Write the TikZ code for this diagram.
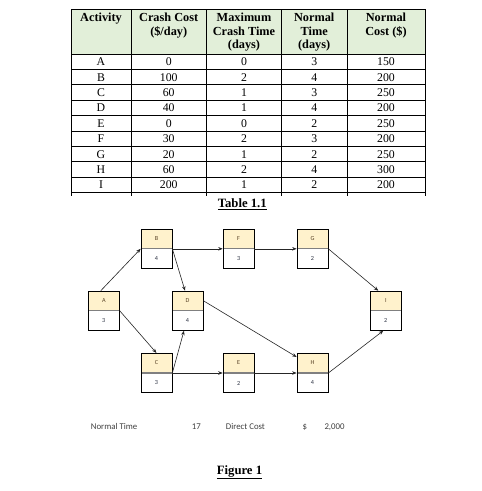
\documentclass[tikz,border=0pt]{standalone}
\usepackage{fontspec}
\setmainfont{Liberation Serif}
\newfontfamily\calibri{Carlito}
\usetikzlibrary{arrows.meta,calc}
\definecolor{hdrgreen}{HTML}{E2EFD9}
\definecolor{cream}{HTML}{FFF2CC}
\definecolor{divgray}{HTML}{808080}
\definecolor{lettc}{HTML}{5A4428}
\definecolor{numc}{HTML}{2E3444}
\definecolor{txtgray}{HTML}{404040}
\tikzset{
 hdr/.style={font=\fontsize{12.3}{13.6}\selectfont\bfseries, anchor=base, inner sep=0},
 cell/.style={font=\fontsize{11.8}{13}\selectfont, anchor=base, inner sep=0},
 rule/.style={line width=0.8pt, black},
 actbox/.style={draw=black, line width=0.7pt, fill=white, minimum width=31pt, minimum height=39.3pt, inner sep=0,
   path picture={\fill[cream] (path picture bounding box.north west) rectangle (path picture bounding box.east);
     \draw[divgray, line width=1.3pt] (path picture bounding box.west) -- (path picture bounding box.east);}},
 blabel/.style={font=\calibri\fontsize{6.2}{7}\selectfont, text=lettc, inner sep=0},
 bnum/.style={font=\calibri\fontsize{6.2}{7}\selectfont, text=numc, inner sep=0},
 link/.style={draw=black!85, line width=0.6pt, -{Stealth[length=4.5pt,width=3.5pt]}},
 foot/.style={font=\calibri\fontsize{8.8}{10}\selectfont, text=txtgray, anchor=base west, inner sep=0},
 captxt/.style={font=\fontsize{12.7}{14}\selectfont\bfseries, anchor=base, inner sep=0},
}
\begin{document}
\begin{tikzpicture}[x=1pt,y=-1pt]
\useasboundingbox (0,0) rectangle (482,491);
\fill[white] (0,0) rectangle (482,491);
% ---------- Table ----------
\fill[hdrgreen] (71,9.3) rectangle (425,54);
\foreach \yy in {9.3,54,69.4,84.8,100.2,115.6,131,146.4,161.8,177.2,192.6}
  \draw[rule] (71,\yy) -- (425,\yy);
\foreach \xx in {71,131,206.5,281.5,347,425}
  \draw[rule] (\xx,9.3) -- (\xx,195.6);
% header
\node[hdr] (h1) at (101,21.6) {Activity};
\node[hdr] (h2a) at (168.7,21.6) {Crash Cost};
\node[hdr] (h2b) at (168.7,35.1) {(\$/day)};
\node[hdr] (h3a) at (244,21.6) {Maximum};
\node[hdr] (h3b) at (244,35.1) {Crash Time};
\node[hdr] (h3c) at (244,48.6) {(days)};
\node[hdr] (h4a) at (314.2,21.6) {Normal};
\node[hdr] (h4b) at (314.2,35.1) {Time};
\node[hdr] (h4c) at (314.2,48.6) {(days)};
\node[hdr] (h5a) at (386,21.6) {Normal};
\node[hdr] (h5b) at (386,35.1) {Cost (\$)};
% rows
\foreach \a/\b/\c/\d/\e [count=\i from 0] in
 {A/0/0/3/150, B/100/2/4/200, C/60/1/3/250, D/40/1/4/200, E/0/0/2/250,
  F/30/2/3/200, G/20/1/2/250, H/60/2/4/300, I/200/1/2/200}{
  \pgfmathsetmacro\yy{54+15.4*\i+7.7+4}
  \node[cell] (r\i a) at (101,\yy) {\a};
  \node[cell] (r\i b) at (168.7,\yy) {\b};
  \node[cell] (r\i c) at (244,\yy) {\c};
  \node[cell] (r\i d) at (314.2,\yy) {\d};
  \node[cell] (r\i e) at (386,\yy) {\e};
}
\node[captxt] (tcap) at (242.3,207.6) {\underline{Table 1.1}};
% ---------- Network ----------
\foreach \n/\xx/\yy/\d in {A/103.8/310.7/3, B/156.5/248.8/4, C/156.5/373/3, D/187.5/310.7/4,
  E/238.6/373/2, F/238.6/248.8/3, G/312.5/248.8/2, H/312.5/373/4, I/385.8/310.7/2}{
  \node[actbox] (\n) at (\xx,\yy) {};
  \node[blabel] (\n-l) at ($(\n.center)!0.5!(\n.north)$) {\n};
  \node[bnum] (\n-n) at ($(\n.center)!0.5!(\n.south)$) {\d};
}
\draw[link] ([xshift=-3pt]A.north) -- (B.west);
\draw[link] (A.east) -- (C.north);
\draw[link] (B.east) -- (F.west);
\draw[link] (B.east) -- ([xshift=-2.5pt]D.north);
\draw[link] (C.east) -- ([xshift=-3.5pt]D.south);
\draw[link] (C.east) -- (E.west);
\draw[link] ([yshift=10pt]D.east) -- ([yshift=-4pt]H.north west);
\draw[link] (E.east) -- (H.west);
\draw[link] (F.east) -- (G.west);
\draw[link] (G.east) -- ([xshift=-7.5pt]I.north);
\draw[link] (H.east) -- ([xshift=-2.5pt]I.south);
% ---------- Footer ----------
\node[foot] (nt) at (90.7,429) {Normal Time};
\node[foot] (ntv) at (191.7,429) {17};
\node[foot] (dc) at (225.7,429) {Direct Cost};
\node[foot] (dcs) at (302.3,429) {\$};
\node[foot] (dcv) at (324.3,429) {2,000};
\node[captxt] (fcap) at (239.5,474) {\underline{Figure 1}};
\end{tikzpicture}
\end{document}
